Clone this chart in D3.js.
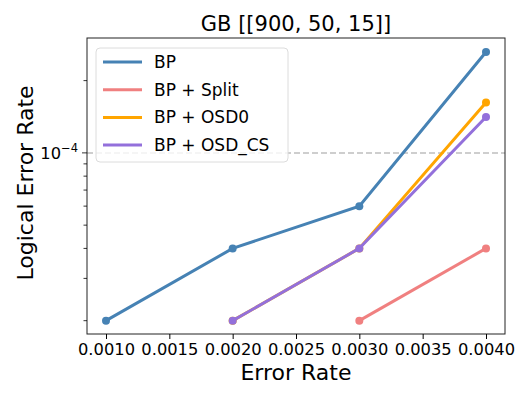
<!DOCTYPE html>
<html>
<head>
<meta charset="utf-8">
<script src="https://cdn.jsdelivr.net/npm/d3@7"></script>
<style>
  body { margin: 0; background: #fff; }
  svg { font-family: "DejaVu Sans", sans-serif; }
</style>
</head>
<body>
<svg id="chart" width="532" height="399"></svg>
<script>
// Data
const errorRates = [0.001, 0.002, 0.003, 0.004];
const bpValues = [2e-5, 4e-5, 6e-5, 2.63e-4];
const splitValues = [null, null, 2e-5, 4e-5];
const osd0Values = [null, 2e-5, 4e-5, 1.62e-4];
const osdCsValues = [null, 2e-5, 4e-5, 1.41e-4];
const xTicks = [0.001, 0.0015, 0.002, 0.0025, 0.003, 0.0035, 0.004];
const yMinorTicks = [2e-5, 3e-5, 4e-5, 5e-5, 6e-5, 7e-5, 8e-5, 9e-5, 2e-4];
const threshold = 1e-4;

const series = [
  { name: "BP", values: bpValues, color: "steelblue" },
  { name: "BP + Split", values: splitValues, color: "lightcoral" },
  { name: "BP + OSD0", values: osd0Values, color: "orange" },
  { name: "BP + OSD_CS", values: osdCsValues, color: "mediumpurple" }
];

const svg = d3.select("#chart");
const margin = { top: 38, right: 27, bottom: 65, left: 87 };
const width = 532, height = 399;

const xScale = d3.scaleLinear().domain([0.00085, 0.00415]).range([margin.left, width - margin.right]);
const yScale = d3.scaleLog().domain([1.76e-5, 3.01e-4]).range([height - margin.bottom, margin.top]);

// threshold dashed line
svg.append("line")
  .attr("x1", margin.left).attr("x2", width - margin.right)
  .attr("y1", yScale(threshold)).attr("y2", yScale(threshold))
  .attr("stroke", "#bfbfbf")
  .attr("stroke-width", 1.5)
  .attr("stroke-dasharray", "6,3");

// lines + markers
const line = d3.line()
  .defined(d => d.y != null)
  .x(d => xScale(d.x))
  .y(d => yScale(d.y));

series.forEach(s => {
  const pts = errorRates.map((x, i) => ({ x, y: s.values[i] }));
  svg.append("path")
    .datum(pts)
    .attr("fill", "none")
    .attr("stroke", s.color)
    .attr("stroke-width", 3)
    .attr("d", line);
  svg.selectAll(null)
    .data(pts.filter(d => d.y != null))
    .enter().append("circle")
    .attr("cx", d => xScale(d.x))
    .attr("cy", d => yScale(d.y))
    .attr("r", 4)
    .attr("fill", s.color);
});

// frame
svg.append("rect")
  .attr("x", margin.left).attr("y", margin.top)
  .attr("width", width - margin.left - margin.right)
  .attr("height", height - margin.top - margin.bottom)
  .attr("fill", "none")
  .attr("stroke", "#222")
  .attr("stroke-width", 1);

// x axis
const xAxis = svg.append("g")
  .attr("transform", `translate(0,${height - margin.bottom})`)
  .call(d3.axisBottom(xScale).tickValues(xTicks).tickFormat(d3.format(".4f")).tickSizeOuter(0).tickSize(5).tickPadding(4));
xAxis.attr("font-size", 16.3).attr("font-family", "DejaVu Sans");
xAxis.select(".domain").remove();
xAxis.selectAll("text").attr("fill", "#000");

// y axis (log, one major tick + minors)
const yAxis = svg.append("g")
  .attr("transform", `translate(${margin.left},0)`);
yAxis.selectAll(".minor")
  .data(yMinorTicks)
  .enter().append("line")
  .attr("x1", 0).attr("x2", -3.5)
  .attr("y1", d => yScale(d)).attr("y2", d => yScale(d))
  .attr("stroke", "#000").attr("stroke-width", 0.8);
yAxis.append("line")
  .attr("x1", 0).attr("x2", -5)
  .attr("y1", yScale(threshold)).attr("y2", yScale(threshold))
  .attr("stroke", "#000").attr("stroke-width", 0.8);
const majorLabel = yAxis.append("text")
  .attr("x", -9)
  .attr("y", yScale(threshold) + 6)
  .attr("text-anchor", "end")
  .attr("font-size", 16.3);
majorLabel.append("tspan").text("10");
majorLabel.append("tspan").attr("dy", -7).attr("font-size", 11.5).text("\u22124");

// axis labels and title
svg.append("text")
  .attr("x", (margin.left + width - margin.right) / 2)
  .attr("y", 380)
  .attr("text-anchor", "middle")
  .attr("font-size", 22)
  .text("Error Rate");

svg.append("text")
  .attr("transform", `translate(33,${(margin.top + height - margin.bottom) / 2 - 3}) rotate(-90)`)
  .attr("text-anchor", "middle")
  .attr("font-size", 22)
  .text("Logical Error Rate");

svg.append("text")
  .attr("x", (margin.left + width - margin.right) / 2)
  .attr("y", 31)
  .attr("text-anchor", "middle")
  .attr("font-size", 21)
  .text("GB [[900, 50, 15]]");

// legend
const legend = svg.append("g");
legend.append("rect")
  .attr("x", 96).attr("y", 48)
  .attr("width", 192).attr("height", 114)
  .attr("rx", 4)
  .attr("fill", "#fff").attr("fill-opacity", 0.8)
  .attr("stroke", "#dcdcdc");
series.forEach((s, i) => {
  const y = 62 + i * 27.7;
  legend.append("line")
    .attr("x1", 103).attr("x2", 142)
    .attr("y1", y).attr("y2", y)
    .attr("stroke", s.color).attr("stroke-width", 3);
  legend.append("text")
    .attr("x", 154).attr("y", y + 6)
    .attr("font-size", 17)
    .text(s.name);
});
</script>
</body>
</html>
